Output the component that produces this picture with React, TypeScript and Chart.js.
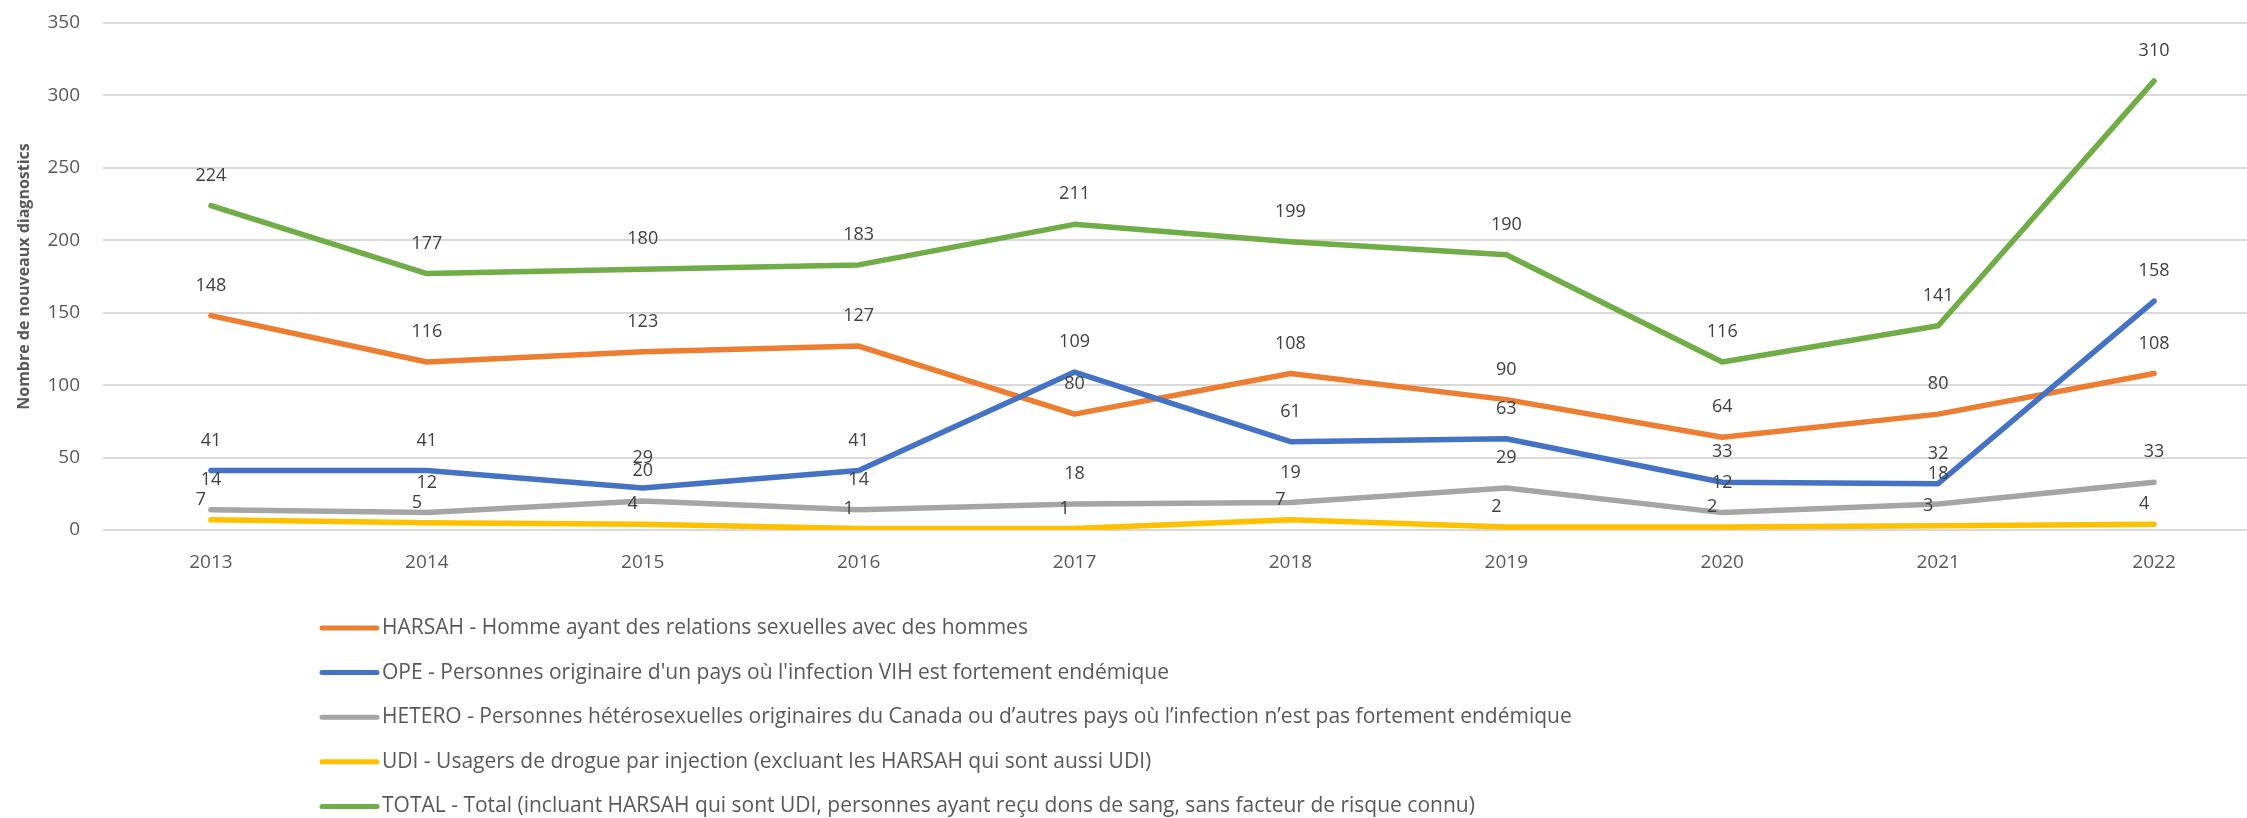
import React, { useEffect, useRef } from "react";
import { Chart, registerables } from "chart.js";
Chart.register(...registerables);

const years = ["2013", "2014", "2015", "2016", "2017", "2018", "2019", "2020", "2021", "2022"];
const harsah = [148, 116, 123, 127, 80, 108, 90, 64, 80, 108];
const ope = [41, 41, 29, 41, 109, 61, 63, 33, 32, 158];
const hetero = [14, 12, 20, 14, 18, 19, 29, 12, 18, 33];
const udi = [7, 5, 4, 1, 1, 7, 2, 2, 3, 4];
const total = [224, 177, 180, 183, 211, 199, 190, 116, 141, 310];

const seriesNames = [
  "HARSAH - Homme ayant des relations sexuelles avec des hommes",
  "OPE - Personnes originaire d'un pays où l'infection VIH est fortement endémique",
  "HETERO - Personnes hétérosexuelles originaires du Canada ou d’autres pays où l’infection n’est pas fortement endémique",
  "UDI - Usagers de drogue par injection (excluant les HARSAH qui sont aussi UDI)",
  "TOTAL - Total (incluant HARSAH qui sont UDI, personnes ayant reçu dons de sang, sans facteur de risque connu)",
];
const seriesValues = [harsah, ope, hetero, udi, total];
const seriesColors = ["#ED7D31", "#4472C4", "#A5A5A5", "#FFC000", "#70AD47"];
const yTitle = "Nombre de nouveaux diagnostics";

const FONT = '"Open Sans", "Noto Sans", sans-serif';

export default function App() {
  const ref = useRef<HTMLCanvasElement>(null);
  useEffect(() => {
    document.documentElement.style.overflow = "hidden";
    document.body.style.margin = "0";
    document.body.style.overflow = "hidden";

    const labelPlugin = {
      id: "pointLabels",
      afterDatasetsDraw(chart: any) {
        const ctx = chart.ctx;
        ctx.save();
        ctx.font = `18px ${FONT}`;
        ctx.fillStyle = "#404040";
        ctx.textAlign = "center";
        ctx.textBaseline = "middle";
        chart.data.datasets.forEach((ds: any, i: number) => {
          const meta = chart.getDatasetMeta(i);
          const dx = i === 3 ? -10 : 0;
          const dy = i === 3 ? -20 : -30;
          meta.data.forEach((pt: any, j: number) => {
            ctx.fillText(String(ds.data[j]), pt.x + dx, pt.y + dy);
          });
        });
        ctx.restore();
      },
    };

    const legendPlugin = {
      id: "vertLegend",
      afterDraw(chart: any) {
        const ctx = chart.ctx;
        ctx.save();
        ctx.font = `21px ${FONT}`;
        ctx.textBaseline = "middle";
        ctx.textAlign = "left";
        const x0 = 322;
        const y0 = 628;
        const step = 44.6;
        chart.data.datasets.forEach((ds: any, i: number) => {
          const y = y0 + i * step;
          ctx.strokeStyle = ds.borderColor;
          ctx.lineWidth = 5;
          ctx.lineCap = "round";
          ctx.beginPath();
          ctx.moveTo(x0, y);
          ctx.lineTo(x0 + 55, y);
          ctx.stroke();
          ctx.fillStyle = "#595959";
          ctx.fillText(ds.label, x0 + 60, y);
        });
        ctx.restore();
      },
    };

    const chart = new Chart(ref.current!, {
      type: "line",
      data: {
        labels: years,
        datasets: seriesValues.map((vals, i) => ({
          label: seriesNames[i],
          data: vals,
          borderColor: seriesColors[i],
          backgroundColor: seriesColors[i],
          borderWidth: 5.5,
          borderCapStyle: "round",
          borderJoinStyle: "round",
          pointRadius: 0,
          pointHoverRadius: 0,
          fill: false,
          tension: 0,
          order: 5 - i,
        })),
      },
      options: {
        responsive: false,
        animation: false,
        layout: { padding: { top: 23, right: 3, bottom: 250, left: 0 } },
        plugins: { legend: { display: false }, tooltip: { enabled: false } },
        scales: {
          x: {
            offset: true,
            grid: { display: false, drawTicks: false, offset: true },
            border: { display: false },
            ticks: { color: "#595959", font: { family: FONT, size: 19 }, padding: 21, maxRotation: 0 },
            afterFit: (s: any) => {
              s.height = 38;
            },
          },
          y: {
            min: 0,
            max: 350,
            ticks: { stepSize: 50, color: "#595959", font: { family: FONT, size: 19 }, padding: 0 },
            grid: {
              color: "#D9D9D9",
              lineWidth: 2,
              drawTicks: true,
              tickLength: 23,
              tickColor: "rgba(0,0,0,0)",
            },
            border: { display: false },
            title: {
              display: true,
              text: yTitle,
              color: "#595959",
              font: { family: FONT, size: 16, weight: "bold" },
              padding: { top: 15, bottom: 0 },
            },
            afterFit: (s: any) => {
              s.width = 103;
            },
          },
        },
      } as any,
      plugins: [labelPlugin, legendPlugin],
    });
    return () => chart.destroy();
  }, []);
  return (
    <div style={{ width: 2247, height: 818, overflow: "hidden" }}>
      <canvas ref={ref} width={2265} height={818} style={{ display: "block" }} />
    </div>
  );
}
